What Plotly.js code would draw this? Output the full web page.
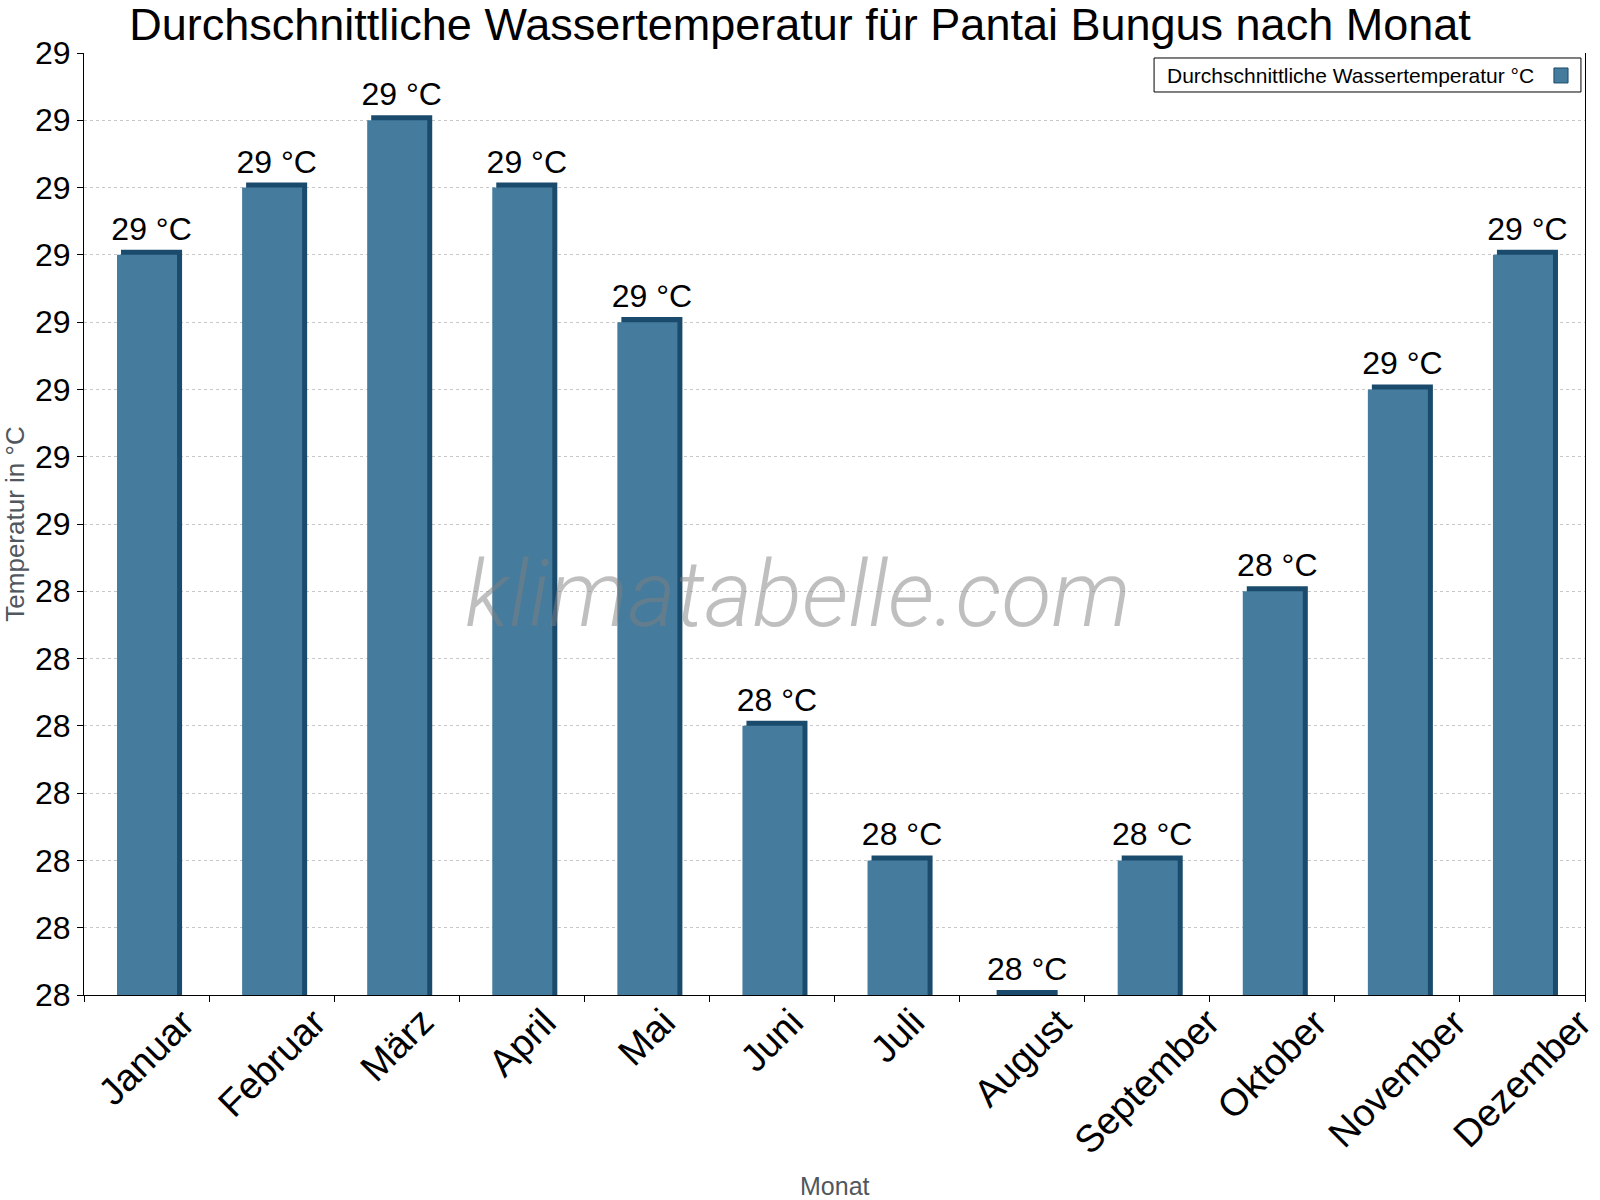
<!DOCTYPE html>
<html>
<head>
<meta charset="utf-8">
<script src="https://cdn.plot.ly/plotly-3.0.1.min.js"></script>
<style>
  body { margin: 0; background: #fff; }
  #chart { width: 1600px; height: 1200px; }
</style>
</head>
<body>
<div id="chart"></div>
<script>
var months = ["Januar", "Februar", "März", "April", "Mai", "Juni", "Juli", "August", "September", "Oktober", "November", "Dezember"];
var waterTemp = [28.9, 29.0, 29.1, 29.0, 28.8, 28.2, 28.0, 27.8, 28.0, 28.4, 28.7, 28.9];
var yTicks = [27.8, 27.9, 28.0, 28.1, 28.2, 28.3, 28.4, 28.5, 28.6, 28.7, 28.8, 28.9, 29.0, 29.1, 29.2];
var yTickText = ["28", "28", "28", "28", "28", "28", "28", "29", "29", "29", "29", "29", "29", "29", "29"];
var seriesName = 'Durchschnittliche Wassertemperatur °C';

var yMin = 27.8, yMax = 29.2;
var faceColor = '#457b9d';
var edgeColor = '#1b4b6c';
var edgeDepth = 0.0075; // dark top strip of the 3d bars
var fontFam = 'Liberation Sans, Arial, sans-serif';
var grey = '#50575e';

var labels = waterTemp.map(function (v) { return Math.round(v) + ' °C'; });

// dark back bar -> 3d edge on top and right side
var edge = {
  x: months,
  y: waterTemp.map(function (v) { return v + edgeDepth - yMin; }),
  base: yMin,
  type: 'bar',
  width: 0.488,
  offset: -0.204,
  marker: { color: edgeColor },
  text: labels,
  textposition: 'outside',
  constraintext: 'none',
  textfont: { size: 32, color: '#000', family: fontFam },
  cliponaxis: false,
  hoverinfo: 'skip',
  showlegend: false
};

var face = {
  x: months,
  y: waterTemp.map(function (v) { return v - yMin; }),
  base: yMin,
  type: 'bar',
  width: 0.48,
  offset: -0.236,
  marker: { color: faceColor },
  name: seriesName,
  showlegend: false
};

// rotated month labels, centred under each bar
var annotations = months.map(function (m) {
  return {
    text: m, x: m, xref: 'x', y: 0, yref: 'paper',
    xanchor: 'center', yanchor: 'top', yshift: -3,
    textangle: -45, showarrow: false,
    font: { size: 38, color: '#000', family: fontFam }
  };
});

annotations.push({
  text: 'klimatabelle.com',
  xref: 'paper', yref: 'paper',
  x: 0.476, y: 0.425,
  xanchor: 'center', yanchor: 'middle',
  showarrow: false,
  font: { size: 92, color: 'rgba(128,128,128,0.5)', family: 'Roboto, sans-serif', weight: 300, style: 'italic' }
});

annotations.push({
  text: seriesName,
  xref: 'paper', yref: 'paper',
  x: 0.7205, y: 0.9766,
  xanchor: 'left', yanchor: 'middle',
  showarrow: false,
  font: { size: 21, color: '#000', family: fontFam }
});

annotations.push({
  text: 'Monat',
  xref: 'paper', yref: 'paper',
  x: 0.5, y: 0, yshift: -175,
  xanchor: 'center', yanchor: 'top',
  showarrow: false,
  font: { size: 25, color: grey, family: fontFam }
});

var layout = {
  width: 1600,
  height: 1200,
  margin: { l: 84, r: 15, t: 53, b: 205 },
  paper_bgcolor: '#fff',
  plot_bgcolor: '#fff',
  barmode: 'overlay',
  showlegend: false,
  font: { family: fontFam, color: '#000' },
  title: {
    text: 'Durchschnittliche Wassertemperatur für Pantai Bungus nach Monat',
    font: { size: 45, color: '#000' },
    x: 0.5,
    xanchor: 'center',
    y: 0.98,
    yanchor: 'middle'
  },
  xaxis: {
    type: 'category',
    range: [-0.5, months.length - 0.5],
    showticklabels: false,
    tickson: 'boundaries',
    ticks: 'outside',
    ticklen: 6,
    tickcolor: '#000',
    showline: true,
    linecolor: '#000',
    linewidth: 1,
    showgrid: false
  },
  yaxis: {
    range: [yMin, yMax],
    tickvals: yTicks,
    ticktext: yTickText,
    tickfont: { size: 32, color: '#000' },
    ticks: 'outside',
    ticklen: 6,
    tickcolor: '#000',
    showline: true,
    mirror: true,
    linecolor: '#000',
    linewidth: 1,
    showgrid: true,
    gridcolor: '#c8c8c8',
    griddash: 'dot',
    zeroline: false,
    title: { text: 'Temperatur in °C', font: { size: 26, color: grey }, standoff: 4 }
  },
  shapes: [
    { type: 'rect', xref: 'paper', yref: 'paper', x0: 0.7129, x1: 0.9973, y0: 0.9586, y1: 0.9947,
      fillcolor: '#fff', line: { color: '#000', width: 1 } },
    { type: 'rect', xref: 'paper', yref: 'paper', x0: 0.9793, x1: 0.9887, y0: 0.9682, y1: 0.9841,
      fillcolor: faceColor, line: { color: edgeColor, width: 1 } }
  ],
  annotations: annotations
};

Plotly.newPlot('chart', [edge, face], layout, { displayModeBar: false, staticPlot: true });
</script>
</body>
</html>
